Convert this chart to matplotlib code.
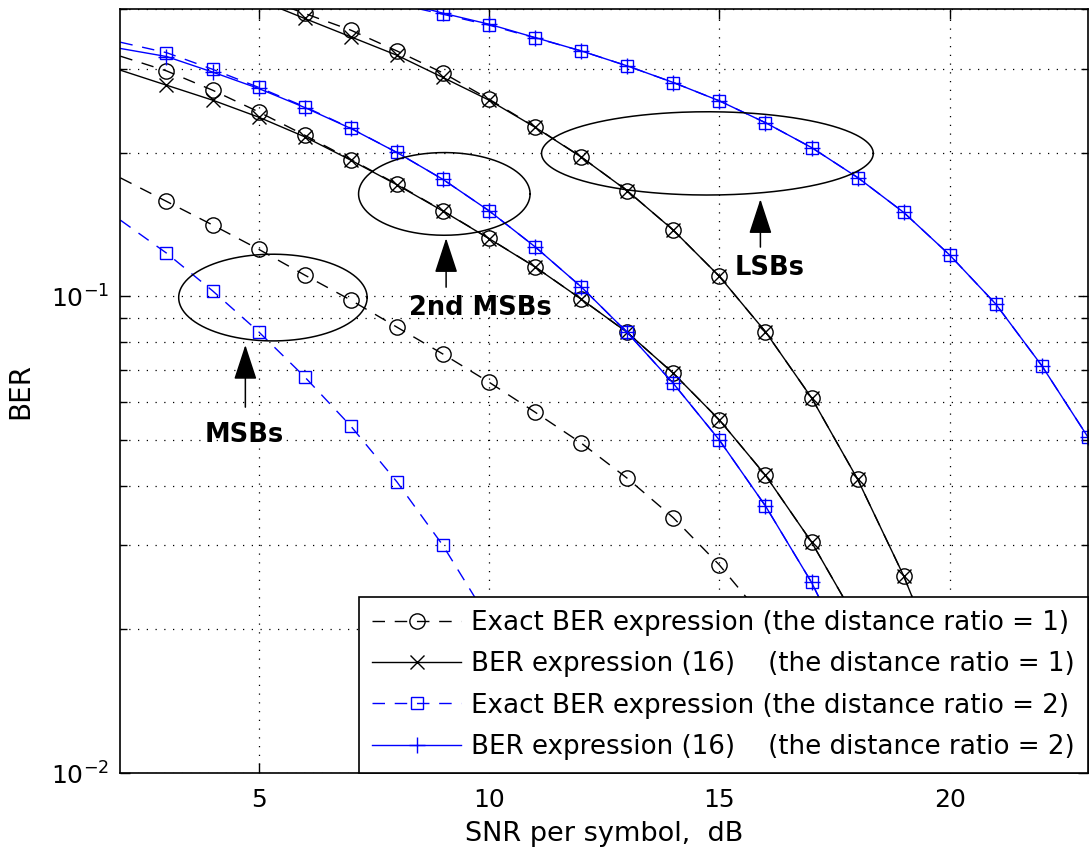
import matplotlib
matplotlib.use('Agg')
import matplotlib.pyplot as plt
import numpy as np

# SNR grid (dB)
snr_db = list(range(2, 24))

# MSBs (only the exact curves are visible)
msb_exact_r1 = [0.177, 0.158, 0.141, 0.1254, 0.1107, 0.0981, 0.0861, 0.0756, 0.066, 0.0571,
                0.0492, 0.0415, 0.0343, 0.0273, 0.0209, 0.0153, 0.0107, 0.0071]
msb_exact_r2 = [0.1443, 0.1231, 0.1026, 0.0842, 0.0677, 0.0534, 0.0408, 0.0300, 0.0209, 0.0136, 0.0083]

# 2nd MSBs
msb2_exact_r1 = [0.3185, 0.2967, 0.2703, 0.2434, 0.2175, 0.1934, 0.1717, 0.1510, 0.1321, 0.1152,
                 0.0986, 0.0839, 0.0689, 0.0550, 0.0421, 0.0305, 0.0207, 0.0129, 0.0075]
msb2_approx_r1 = [0.2977, 0.2769, 0.2576, 0.2373, 0.2158, 0.1928, 0.1712, 0.1508, 0.1320, 0.1151,
                  0.0986, 0.0839, 0.0689, 0.0550, 0.0421, 0.0305, 0.0207, 0.0129, 0.0075]
msb2_exact_r2 = [0.3407, 0.3240, 0.2990, 0.2740, 0.2495, 0.2250, 0.2001, 0.1757, 0.1510, 0.1269,
                 0.1046, 0.0839, 0.0656, 0.0499, 0.0363, 0.0251, 0.0160, 0.0094]
msb2_approx_r2 = [0.3306, 0.3180, 0.2950, 0.2725, 0.2486, 0.2247, 0.2001, 0.1757, 0.1510, 0.1269,
                  0.1046, 0.0839, 0.0656, 0.0499, 0.0363, 0.0251, 0.0160, 0.0094]

# LSBs (first points sit above the top of the axes)
lsb_start_r1 = 5
lsb_exact_r1 = [0.425, 0.3915, 0.3612, 0.3267, 0.2938, 0.2588, 0.2264, 0.1959, 0.1663, 0.1375,
                0.1100, 0.0842, 0.0612, 0.0413, 0.0259, 0.0149, 0.0078]
lsb_approx_r1 = [0.418, 0.3821, 0.3497, 0.3200, 0.2874, 0.2576, 0.2260, 0.1957, 0.1663, 0.1375,
                 0.1100, 0.0842, 0.0612, 0.0413, 0.0259, 0.0149, 0.0078]
lsb_start_r2 = 8
lsb_exact_r2 = [0.410, 0.3900, 0.3700, 0.3480, 0.3267, 0.3039, 0.2805, 0.2567, 0.2310, 0.2049,
                0.1773, 0.1498, 0.1219, 0.0962, 0.0714, 0.0506]
lsb_approx_r2 = [0.416, 0.3920, 0.3717, 0.3485, 0.3267, 0.3039, 0.2805, 0.2567, 0.2310, 0.2049,
                 0.1773, 0.1498, 0.1219, 0.0962, 0.0714, 0.0506]

legend_labels = ['Exact BER expression (the distance ratio = 1)',
                 'BER expression (16)    (the distance ratio = 1)',
                 'Exact BER expression (the distance ratio = 2)',
                 'BER expression (16)    (the distance ratio = 2)']

x_ticks = [5, 10, 15, 20]

fig = plt.figure(figsize=(10.9, 8.5), dpi=100)
ax = fig.add_axes([120.4 / 1090, 1 - 773 / 850, (1088 - 120.4) / 1090, (773 - 9) / 850])

dash = (0, (9, 7))


def xs(start, vals):
    return snr_db[snr_db.index(start):snr_db.index(start) + len(vals)]


def draw(x, y, color, ls, marker, ms, label=None):
    ax.semilogy(x, y, color=color, linestyle=ls, linewidth=1.0, marker=marker, markersize=ms,
                markerfacecolor='none', markeredgecolor=color, markeredgewidth=1.0,
                markevery=slice(1, None), label=label)


# ratio 1, exact
draw(xs(2, msb_exact_r1), msb_exact_r1, 'k', dash, 'o', 11, legend_labels[0])
draw(xs(2, msb2_exact_r1), msb2_exact_r1, 'k', dash, 'o', 11)
draw(xs(lsb_start_r1, lsb_exact_r1), lsb_exact_r1, 'k', dash, 'o', 11)
# ratio 1, expression (16)
draw(xs(2, msb2_approx_r1), msb2_approx_r1, 'k', '-', 'x', 10, legend_labels[1])
draw(xs(lsb_start_r1, lsb_approx_r1), lsb_approx_r1, 'k', '-', 'x', 10)
# ratio 2, exact
draw(xs(2, msb_exact_r2), msb_exact_r2, 'b', dash, 's', 8.6, legend_labels[2])
draw(xs(2, msb2_exact_r2), msb2_exact_r2, 'b', dash, 's', 8.6)
draw(xs(lsb_start_r2, lsb_exact_r2), lsb_exact_r2, 'b', dash, 's', 8.6)
# ratio 2, expression (16)
draw(xs(2, msb2_approx_r2), msb2_approx_r2, 'b', '-', '+', 12, legend_labels[3])
draw(xs(lsb_start_r2, lsb_approx_r2), lsb_approx_r2, 'b', '-', '+', 12)

ax.set_xlim(2, 23)
ax.set_ylim(0.01, 0.4)
ax.set_xticks(x_ticks)

ax.set_axisbelow(True)
ax.grid(True, which='major', axis='x', color='k', linestyle=(0, (1, 6)), linewidth=0.9)
ax.grid(True, which='both', axis='y', color='k', linestyle=(0, (1, 6)), linewidth=0.9)

ax.tick_params(which='both', direction='in', top=True, right=True, width=1.0)
ax.tick_params(which='major', length=7, labelsize=18)
ax.tick_params(which='minor', length=5)
ax.tick_params(axis='x', pad=11)
ax.tick_params(axis='y', pad=8)
for sp in ax.spines.values():
    sp.set_linewidth(1.2)

ax.set_xlabel('SNR per symbol,  dB', fontsize=19.5, labelpad=6)
ax.set_ylabel('BER', fontsize=20, labelpad=12)

# ellipses around each bit group: centre (dB, BER), half width (dB), half height (decades)
t = np.linspace(0, 2 * np.pi, 300)
for cx, cy, a, b in [(5.31, 0.0993, 2.045, 0.0909),
                     (9.03, 0.1638, 1.861, 0.0867),
                     (14.74, 0.1992, 3.60, 0.0873)]:
    ax.plot(cx + a * np.cos(t), cy * 10 ** (b * np.sin(t)), color='k', linewidth=1.1)

arrow = dict(arrowstyle='-|>,head_length=1.1,head_width=0.36', mutation_scale=20,
             color='k', lw=1.1, shrinkA=0, shrinkB=0)
ax.annotate('', xy=(4.712, 0.0790), xytext=(4.712, 0.0585), arrowprops=arrow)
ax.annotate('', xy=(9.069, 0.1323), xytext=(9.069, 0.1044), arrowprops=arrow)
ax.annotate('', xy=(15.89, 0.1597), xytext=(15.89, 0.1267), arrowprops=arrow)

ax.text(4.686, 0.0494, 'MSBs', ha='center', va='baseline', fontsize=18.5, fontweight='bold')
ax.text(9.805, 0.0912, '2nd MSBs', ha='center', va='baseline', fontsize=18.5, fontweight='bold')
ax.text(16.08, 0.1107, 'LSBs', ha='center', va='baseline', fontsize=18.5, fontweight='bold')

leg = ax.legend(loc='lower right', fontsize=18.8, handlelength=3.4, handletextpad=0.38,
                borderpad=0.5, labelspacing=0.59, borderaxespad=0, fancybox=False,
                edgecolor='k', framealpha=1, numpoints=1)
leg.get_frame().set_linewidth(1.2)

fig.savefig('out.png', dpi=100)
